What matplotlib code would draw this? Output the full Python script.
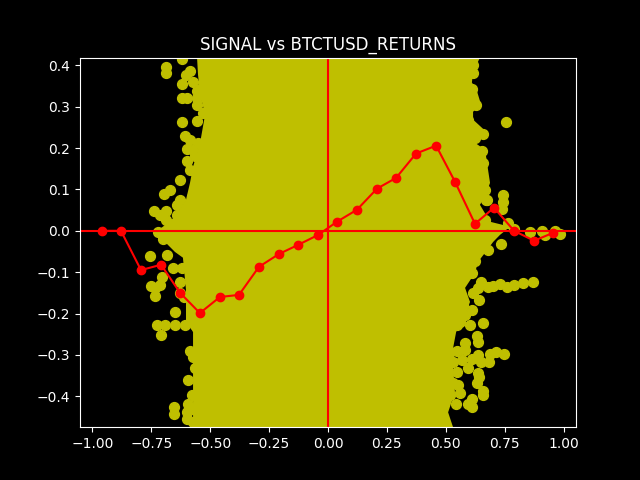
import matplotlib
matplotlib.use("Agg")
import matplotlib.pyplot as plt

plt.style.use("dark_background")

body_left_x = [-0.556, -0.552, -0.543, -0.522, -0.543, -0.573, -0.586, -0.603, -0.650, -0.701, -0.726,
               -0.692, -0.650, -0.616, -0.603, -0.603, -0.573, -0.573]
body_left_y = [0.419, 0.378, 0.330, 0.281, 0.213, 0.155, 0.116, 0.075, 0.034, 0.010, 0.0,
               -0.027, -0.051, -0.065, -0.143, -0.216, -0.245, -0.475]
body_right_x = [0.645, 0.616, 0.611, 0.633, 0.650, 0.616, 0.616, 0.675, 0.624, 0.667, 0.675, 0.688, 0.667,
                0.645, 0.688, 0.773, 0.730, 0.701, 0.667, 0.637, 0.624, 0.582, 0.603, 0.582, 0.544,
                0.531, 0.531, 0.539, 0.510, 0.531]
body_right_y = [0.419, 0.383, 0.359, 0.337, 0.305, 0.288, 0.269, 0.238, 0.213, 0.196, 0.165, 0.116, 0.082,
                0.063, 0.022, 0.010, -0.010, -0.027, -0.053, -0.075, -0.102, -0.138, -0.172, -0.204, -0.245,
                -0.284, -0.325, -0.390, -0.439, -0.475]

# separate dots outside the dense part
left_x = [-0.689, -0.689, -0.619, -0.603, -0.586, -0.619, -0.572, -0.619, -0.597, -0.555, -0.555, -0.555,
          -0.558, -0.530, -0.619, -0.606, -0.586, -0.597, -0.572, -0.551, -0.600, -0.586, -0.627, -0.671,
          -0.695, -0.628, -0.643, -0.739, -0.713, -0.689, -0.689, -0.643, -0.720,
          -0.754, -0.685, -0.657, -0.706, -0.713, -0.753, -0.736, -0.735, -0.628, -0.648,
          -0.727, -0.692, -0.650, -0.607, -0.565, -0.708, -0.586, -0.575, -0.565, -0.593,
          -0.655, -0.655, -0.593, -0.597, -0.597, -0.573,
          -0.515, -0.531, -0.522, -0.565, -0.579, -0.628, -0.671, -0.579, -0.572,
          -0.628, -0.610, -0.620, -0.700]
left_y = [0.397, 0.382, 0.415, 0.378, 0.386, 0.356, 0.360, 0.322, 0.322, 0.338, 0.322, 0.305,
          0.265, 0.286, 0.263, 0.230, 0.219, 0.198, 0.196, 0.213, 0.170, 0.148, 0.124, 0.099,
          0.089, 0.075, 0.063, 0.047, 0.039, 0.049, 0.027, 0.039, -0.002,
          -0.062, -0.058, -0.090, -0.111, -0.131, -0.133, -0.157, -0.138, -0.150, -0.197,
          -0.228, -0.228, -0.228, -0.228, -0.228, -0.253, -0.291, -0.305, -0.332, -0.361,
          -0.427, -0.444, -0.418, -0.438, -0.454, -0.462,
          0.366, 0.350, 0.286, 0.180, 0.083, 0.027, 0.010, -0.398, -0.430,
          -0.123, -0.160, -0.090, -0.020]
right_x = [0.742, 0.742, 0.738, 0.757, 0.764, 0.674, 0.858, 0.907, 0.964, 0.985, 0.920, 0.790,
           0.736, 0.681, 0.872, 0.829, 0.791, 0.761, 0.730, 0.702, 0.681, 0.650, 0.638, 0.614, 0.641,
           0.610, 0.660, 0.603, 0.634, 0.638, 0.582, 0.546, 0.582, 0.713, 0.749, 0.688, 0.636, 0.685,
           0.648, 0.610, 0.568, 0.596, 0.638, 0.641, 0.634, 0.532, 0.553, 0.561, 0.660, 0.660, 0.544,
           0.610, 0.596, 0.613, 0.518,
           0.617, 0.617, 0.610, 0.628, 0.596, 0.620, 0.660, 0.624, 0.596, 0.653, 0.638, 0.660, 0.638,
           0.667, 0.671, 0.667, 0.624, 0.610, 0.582, 0.561, 0.546, 0.575, 0.546, 0.532, 0.518, 0.510, 0.488]
right_y = [0.087, 0.069, 0.053, 0.263, 0.019, 0.075, -0.002, 0.0, 0.0, -0.007, -0.010, 0.004,
           -0.032, -0.046, -0.123, -0.127, -0.131, -0.136, -0.128, -0.133, -0.135, -0.123, -0.139, -0.151, -0.167,
           -0.191, -0.222, -0.228, -0.255, -0.268, -0.272, -0.291, -0.288, -0.293, -0.299, -0.299, -0.301, -0.317,
           -0.317, -0.309, -0.313, -0.333, -0.344, -0.353, -0.369, -0.369, -0.373, -0.393, -0.387, -0.398, -0.420,
           -0.407, -0.418, -0.427, -0.398,
           0.402, 0.382, 0.342, 0.305, 0.269, 0.245, 0.234, 0.225, 0.192, 0.194, 0.172, 0.164, 0.136,
           0.099, 0.075, 0.027, -0.074, -0.103, -0.204, -0.220, -0.228, -0.179, -0.341, -0.317, -0.293, -0.381, -0.422]

# binned mean line
bin_x = [-0.960, -0.879, -0.794, -0.709, -0.628, -0.544, -0.459, -0.378, -0.293, -0.208, -0.127, -0.042,
         0.038, 0.123, 0.208, 0.289, 0.374, 0.459, 0.539, 0.624, 0.705, 0.790, 0.875, 0.955]
bin_y = [0.0, 0.0, -0.095, -0.082, -0.150, -0.199, -0.160, -0.155, -0.087, -0.056, -0.034, -0.010,
         0.022, 0.051, 0.102, 0.128, 0.187, 0.206, 0.119, 0.017, 0.056, 0.0, -0.024, -0.005]

fig, ax = plt.subplots(figsize=(6.4, 4.8), dpi=100)

ax.fill(body_left_x + body_right_x[::-1], body_left_y + body_right_y[::-1], color="y", linewidth=0)
ax.scatter(left_x + right_x, left_y + right_y, color="y", s=50)

ax.axhline(0, color="r")
ax.axvline(0, color="r")
ax.plot(bin_x, bin_y, color="r", marker="o")

ax.set_xlim(-1.053, 1.053)
ax.set_ylim(-0.475, 0.419)
ax.set_title("SIGNAL vs BTCTUSD_RETURNS")

fig.savefig("out.png", dpi=100)
